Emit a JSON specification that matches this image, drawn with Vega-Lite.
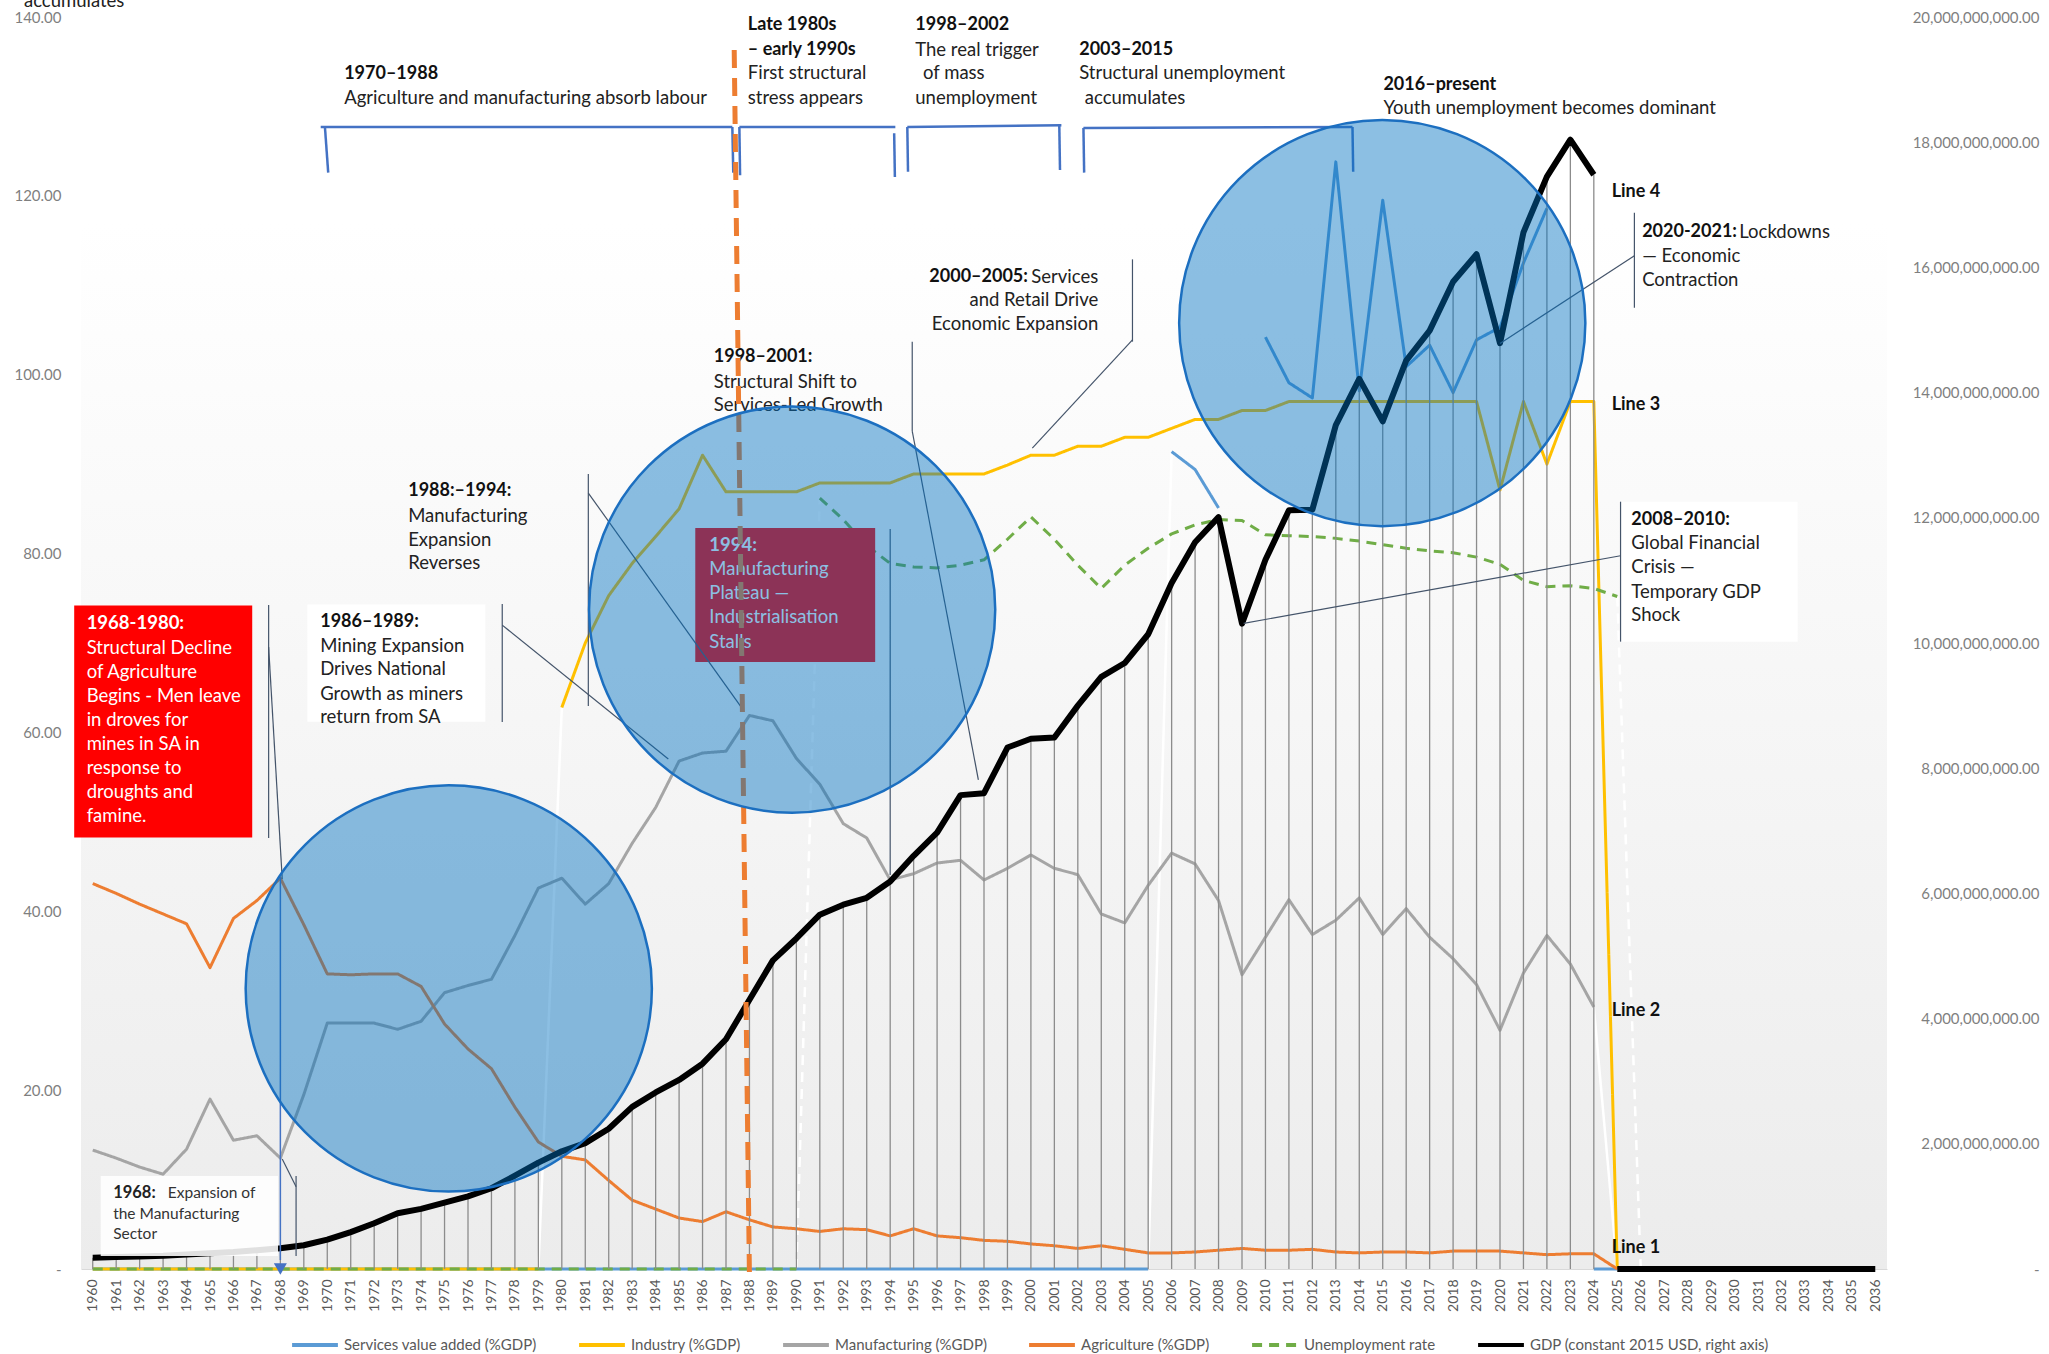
{
  "$schema": "https://vega.github.io/schema/vega-lite/v6.json",
  "width": 1806,
  "height": 1252,
  "autosize": {"type": "none"},
  "padding": {"left": 81, "top": 17, "right": 162, "bottom": 85},
  "background": "white",
  "config": {"view": {"stroke": null}},
  "datasets": {
    "series": [
      {"series":"Services","seg":"a","year":1960,"value":0},{"series":"Services","seg":"a","year":1961,"value":0},{"series":"Services","seg":"a","year":1962,"value":0},{"series":"Services","seg":"a","year":1963,"value":0},{"series":"Services","seg":"a","year":1964,"value":0},{"series":"Services","seg":"a","year":1965,"value":0},{"series":"Services","seg":"a","year":1966,"value":0},{"series":"Services","seg":"a","year":1967,"value":0},{"series":"Services","seg":"a","year":1968,"value":0},{"series":"Services","seg":"a","year":1969,"value":0},
      {"series":"Services","seg":"a","year":1970,"value":0},{"series":"Services","seg":"a","year":1971,"value":0},{"series":"Services","seg":"a","year":1972,"value":0},{"series":"Services","seg":"a","year":1973,"value":0},{"series":"Services","seg":"a","year":1974,"value":0},{"series":"Services","seg":"a","year":1975,"value":0},{"series":"Services","seg":"a","year":1976,"value":0},{"series":"Services","seg":"a","year":1977,"value":0},{"series":"Services","seg":"a","year":1978,"value":0},{"series":"Services","seg":"a","year":1979,"value":0},
      {"series":"Services","seg":"a","year":1980,"value":0},{"series":"Services","seg":"a","year":1981,"value":0},{"series":"Services","seg":"a","year":1982,"value":0},{"series":"Services","seg":"a","year":1983,"value":0},{"series":"Services","seg":"a","year":1984,"value":0},{"series":"Services","seg":"a","year":1985,"value":0},{"series":"Services","seg":"a","year":1986,"value":0},{"series":"Services","seg":"a","year":1987,"value":0},{"series":"Services","seg":"a","year":1988,"value":0},{"series":"Services","seg":"a","year":1989,"value":0},
      {"series":"Services","seg":"a","year":1990,"value":0},{"series":"Services","seg":"a","year":1991,"value":0},{"series":"Services","seg":"a","year":1992,"value":0},{"series":"Services","seg":"a","year":1993,"value":0},{"series":"Services","seg":"a","year":1994,"value":0},{"series":"Services","seg":"a","year":1995,"value":0},{"series":"Services","seg":"a","year":1996,"value":0},{"series":"Services","seg":"a","year":1997,"value":0},{"series":"Services","seg":"a","year":1998,"value":0},{"series":"Services","seg":"a","year":1999,"value":0},
      {"series":"Services","seg":"a","year":2000,"value":0},{"series":"Services","seg":"a","year":2001,"value":0},{"series":"Services","seg":"a","year":2002,"value":0},{"series":"Services","seg":"a","year":2003,"value":0},{"series":"Services","seg":"a","year":2004,"value":0},{"series":"Services","seg":"a","year":2005,"value":0},
      {"series":"Services","seg":"b","year":2006,"value":91.4},{"series":"Services","seg":"b","year":2007,"value":89.4},{"series":"Services","seg":"b","year":2008,"value":85.1},
      {"series":"Services","seg":"c","year":2010,"value":104.2},{"series":"Services","seg":"c","year":2011,"value":99.1},{"series":"Services","seg":"c","year":2012,"value":97.4},{"series":"Services","seg":"c","year":2013,"value":123.8},{"series":"Services","seg":"c","year":2014,"value":98.2},{"series":"Services","seg":"c","year":2015,"value":119.5},{"series":"Services","seg":"c","year":2016,"value":100.9},{"series":"Services","seg":"c","year":2017,"value":103.3},{"series":"Services","seg":"c","year":2018,"value":98.0},{"series":"Services","seg":"c","year":2019,"value":103.9},{"series":"Services","seg":"c","year":2020,"value":105.3},{"series":"Services","seg":"c","year":2021,"value":112.5},{"series":"Services","seg":"c","year":2022,"value":118.6},
      {"series":"Services","seg":"d","year":2024,"value":0},{"series":"Services","seg":"d","year":2025,"value":0},

      {"series":"Industry","seg":"a","year":1960,"value":0},{"series":"Industry","seg":"a","year":1961,"value":0},{"series":"Industry","seg":"a","year":1962,"value":0},{"series":"Industry","seg":"a","year":1963,"value":0},{"series":"Industry","seg":"a","year":1964,"value":0},{"series":"Industry","seg":"a","year":1965,"value":0},{"series":"Industry","seg":"a","year":1966,"value":0},{"series":"Industry","seg":"a","year":1967,"value":0},{"series":"Industry","seg":"a","year":1968,"value":0},{"series":"Industry","seg":"a","year":1969,"value":0},
      {"series":"Industry","seg":"a","year":1970,"value":0},{"series":"Industry","seg":"a","year":1971,"value":0},{"series":"Industry","seg":"a","year":1972,"value":0},{"series":"Industry","seg":"a","year":1973,"value":0},{"series":"Industry","seg":"a","year":1974,"value":0},{"series":"Industry","seg":"a","year":1975,"value":0},{"series":"Industry","seg":"a","year":1976,"value":0},{"series":"Industry","seg":"a","year":1977,"value":0},{"series":"Industry","seg":"a","year":1978,"value":0},{"series":"Industry","seg":"a","year":1979,"value":0},
      {"series":"Industry","seg":"b","year":1980,"value":62.8},{"series":"Industry","seg":"b","year":1981,"value":70.0},{"series":"Industry","seg":"b","year":1982,"value":75.3},{"series":"Industry","seg":"b","year":1983,"value":78.9},{"series":"Industry","seg":"b","year":1984,"value":81.9},{"series":"Industry","seg":"b","year":1985,"value":85.0},{"series":"Industry","seg":"b","year":1986,"value":91.0},{"series":"Industry","seg":"b","year":1987,"value":86.9},{"series":"Industry","seg":"b","year":1988,"value":86.9},{"series":"Industry","seg":"b","year":1989,"value":86.9},
      {"series":"Industry","seg":"b","year":1990,"value":86.9},{"series":"Industry","seg":"b","year":1991,"value":87.9},{"series":"Industry","seg":"b","year":1992,"value":87.9},{"series":"Industry","seg":"b","year":1993,"value":87.9},{"series":"Industry","seg":"b","year":1994,"value":87.9},{"series":"Industry","seg":"b","year":1995,"value":88.9},{"series":"Industry","seg":"b","year":1996,"value":88.9},{"series":"Industry","seg":"b","year":1997,"value":88.9},{"series":"Industry","seg":"b","year":1998,"value":88.9},{"series":"Industry","seg":"b","year":1999,"value":89.9},
      {"series":"Industry","seg":"b","year":2000,"value":91.0},{"series":"Industry","seg":"b","year":2001,"value":91.0},{"series":"Industry","seg":"b","year":2002,"value":92.0},{"series":"Industry","seg":"b","year":2003,"value":92.0},{"series":"Industry","seg":"b","year":2004,"value":93.0},{"series":"Industry","seg":"b","year":2005,"value":93.0},{"series":"Industry","seg":"b","year":2006,"value":94.0},{"series":"Industry","seg":"b","year":2007,"value":95.0},{"series":"Industry","seg":"b","year":2008,"value":95.0},{"series":"Industry","seg":"b","year":2009,"value":96.0},
      {"series":"Industry","seg":"b","year":2010,"value":96.0},{"series":"Industry","seg":"b","year":2011,"value":97.0},{"series":"Industry","seg":"b","year":2012,"value":97.0},{"series":"Industry","seg":"b","year":2013,"value":97.0},{"series":"Industry","seg":"b","year":2014,"value":97.0},{"series":"Industry","seg":"b","year":2015,"value":97.0},{"series":"Industry","seg":"b","year":2016,"value":97.0},{"series":"Industry","seg":"b","year":2017,"value":97.0},{"series":"Industry","seg":"b","year":2018,"value":97.0},{"series":"Industry","seg":"b","year":2019,"value":97.0},
      {"series":"Industry","seg":"b","year":2020,"value":87.1},{"series":"Industry","seg":"b","year":2021,"value":97.0},{"series":"Industry","seg":"b","year":2022,"value":90.0},{"series":"Industry","seg":"b","year":2023,"value":97.0},{"series":"Industry","seg":"b","year":2024,"value":97.0},{"series":"Industry","seg":"b","year":2025,"value":0},

      {"series":"Manufacturing","seg":"a","year":1960,"value":13.3},{"series":"Manufacturing","seg":"a","year":1961,"value":12.4},{"series":"Manufacturing","seg":"a","year":1962,"value":11.4},{"series":"Manufacturing","seg":"a","year":1963,"value":10.6},{"series":"Manufacturing","seg":"a","year":1964,"value":13.4},{"series":"Manufacturing","seg":"a","year":1965,"value":19.0},{"series":"Manufacturing","seg":"a","year":1966,"value":14.4},{"series":"Manufacturing","seg":"a","year":1967,"value":14.9},{"series":"Manufacturing","seg":"a","year":1968,"value":12.4},{"series":"Manufacturing","seg":"a","year":1969,"value":19.5},
      {"series":"Manufacturing","seg":"a","year":1970,"value":27.5},{"series":"Manufacturing","seg":"a","year":1971,"value":27.5},{"series":"Manufacturing","seg":"a","year":1972,"value":27.5},{"series":"Manufacturing","seg":"a","year":1973,"value":26.8},{"series":"Manufacturing","seg":"a","year":1974,"value":27.7},{"series":"Manufacturing","seg":"a","year":1975,"value":30.9},{"series":"Manufacturing","seg":"a","year":1976,"value":31.7},{"series":"Manufacturing","seg":"a","year":1977,"value":32.4},{"series":"Manufacturing","seg":"a","year":1978,"value":37.3},{"series":"Manufacturing","seg":"a","year":1979,"value":42.6},
      {"series":"Manufacturing","seg":"a","year":1980,"value":43.7},{"series":"Manufacturing","seg":"a","year":1981,"value":40.8},{"series":"Manufacturing","seg":"a","year":1982,"value":43.1},{"series":"Manufacturing","seg":"a","year":1983,"value":47.6},{"series":"Manufacturing","seg":"a","year":1984,"value":51.6},{"series":"Manufacturing","seg":"a","year":1985,"value":56.8},{"series":"Manufacturing","seg":"a","year":1986,"value":57.7},{"series":"Manufacturing","seg":"a","year":1987,"value":57.9},{"series":"Manufacturing","seg":"a","year":1988,"value":61.9},{"series":"Manufacturing","seg":"a","year":1989,"value":61.3},
      {"series":"Manufacturing","seg":"a","year":1990,"value":57.1},{"series":"Manufacturing","seg":"a","year":1991,"value":54.2},{"series":"Manufacturing","seg":"a","year":1992,"value":49.8},{"series":"Manufacturing","seg":"a","year":1993,"value":48.2},{"series":"Manufacturing","seg":"a","year":1994,"value":43.5},{"series":"Manufacturing","seg":"a","year":1995,"value":44.2},{"series":"Manufacturing","seg":"a","year":1996,"value":45.4},{"series":"Manufacturing","seg":"a","year":1997,"value":45.7},{"series":"Manufacturing","seg":"a","year":1998,"value":43.5},{"series":"Manufacturing","seg":"a","year":1999,"value":44.8},
      {"series":"Manufacturing","seg":"a","year":2000,"value":46.3},{"series":"Manufacturing","seg":"a","year":2001,"value":44.8},{"series":"Manufacturing","seg":"a","year":2002,"value":44.1},{"series":"Manufacturing","seg":"a","year":2003,"value":39.7},{"series":"Manufacturing","seg":"a","year":2004,"value":38.7},{"series":"Manufacturing","seg":"a","year":2005,"value":42.9},{"series":"Manufacturing","seg":"a","year":2006,"value":46.5},{"series":"Manufacturing","seg":"a","year":2007,"value":45.3},{"series":"Manufacturing","seg":"a","year":2008,"value":41.2},{"series":"Manufacturing","seg":"a","year":2009,"value":32.9},
      {"series":"Manufacturing","seg":"a","year":2010,"value":37.1},{"series":"Manufacturing","seg":"a","year":2011,"value":41.3},{"series":"Manufacturing","seg":"a","year":2012,"value":37.4},{"series":"Manufacturing","seg":"a","year":2013,"value":39.0},{"series":"Manufacturing","seg":"a","year":2014,"value":41.5},{"series":"Manufacturing","seg":"a","year":2015,"value":37.4},{"series":"Manufacturing","seg":"a","year":2016,"value":40.3},{"series":"Manufacturing","seg":"a","year":2017,"value":37.1},{"series":"Manufacturing","seg":"a","year":2018,"value":34.7},{"series":"Manufacturing","seg":"a","year":2019,"value":31.8},
      {"series":"Manufacturing","seg":"a","year":2020,"value":26.7},{"series":"Manufacturing","seg":"a","year":2021,"value":33.1},{"series":"Manufacturing","seg":"a","year":2022,"value":37.3},{"series":"Manufacturing","seg":"a","year":2023,"value":34.1},{"series":"Manufacturing","seg":"a","year":2024,"value":29.3},

      {"series":"Agriculture","seg":"a","year":1960,"value":43.1},{"series":"Agriculture","seg":"a","year":1961,"value":42.0},{"series":"Agriculture","seg":"a","year":1962,"value":40.8},{"series":"Agriculture","seg":"a","year":1963,"value":39.7},{"series":"Agriculture","seg":"a","year":1964,"value":38.6},{"series":"Agriculture","seg":"a","year":1965,"value":33.7},{"series":"Agriculture","seg":"a","year":1966,"value":39.2},{"series":"Agriculture","seg":"a","year":1967,"value":41.2},{"series":"Agriculture","seg":"a","year":1968,"value":43.7},{"series":"Agriculture","seg":"a","year":1969,"value":38.5},
      {"series":"Agriculture","seg":"a","year":1970,"value":33.0},{"series":"Agriculture","seg":"a","year":1971,"value":32.9},{"series":"Agriculture","seg":"a","year":1972,"value":33.0},{"series":"Agriculture","seg":"a","year":1973,"value":33.0},{"series":"Agriculture","seg":"a","year":1974,"value":31.6},{"series":"Agriculture","seg":"a","year":1975,"value":27.4},{"series":"Agriculture","seg":"a","year":1976,"value":24.6},{"series":"Agriculture","seg":"a","year":1977,"value":22.4},{"series":"Agriculture","seg":"a","year":1978,"value":18.1},{"series":"Agriculture","seg":"a","year":1979,"value":14.2},
      {"series":"Agriculture","seg":"a","year":1980,"value":12.6},{"series":"Agriculture","seg":"a","year":1981,"value":12.2},{"series":"Agriculture","seg":"a","year":1982,"value":9.9},{"series":"Agriculture","seg":"a","year":1983,"value":7.7},{"series":"Agriculture","seg":"a","year":1984,"value":6.7},{"series":"Agriculture","seg":"a","year":1985,"value":5.7},{"series":"Agriculture","seg":"a","year":1986,"value":5.3},{"series":"Agriculture","seg":"a","year":1987,"value":6.4},{"series":"Agriculture","seg":"a","year":1988,"value":5.5},{"series":"Agriculture","seg":"a","year":1989,"value":4.7},
      {"series":"Agriculture","seg":"a","year":1990,"value":4.5},{"series":"Agriculture","seg":"a","year":1991,"value":4.2},{"series":"Agriculture","seg":"a","year":1992,"value":4.5},{"series":"Agriculture","seg":"a","year":1993,"value":4.4},{"series":"Agriculture","seg":"a","year":1994,"value":3.7},{"series":"Agriculture","seg":"a","year":1995,"value":4.5},{"series":"Agriculture","seg":"a","year":1996,"value":3.7},{"series":"Agriculture","seg":"a","year":1997,"value":3.5},{"series":"Agriculture","seg":"a","year":1998,"value":3.2},{"series":"Agriculture","seg":"a","year":1999,"value":3.1},
      {"series":"Agriculture","seg":"a","year":2000,"value":2.8},{"series":"Agriculture","seg":"a","year":2001,"value":2.6},{"series":"Agriculture","seg":"a","year":2002,"value":2.3},{"series":"Agriculture","seg":"a","year":2003,"value":2.6},{"series":"Agriculture","seg":"a","year":2004,"value":2.2},{"series":"Agriculture","seg":"a","year":2005,"value":1.8},{"series":"Agriculture","seg":"a","year":2006,"value":1.8},{"series":"Agriculture","seg":"a","year":2007,"value":1.9},{"series":"Agriculture","seg":"a","year":2008,"value":2.1},{"series":"Agriculture","seg":"a","year":2009,"value":2.3},
      {"series":"Agriculture","seg":"a","year":2010,"value":2.1},{"series":"Agriculture","seg":"a","year":2011,"value":2.1},{"series":"Agriculture","seg":"a","year":2012,"value":2.2},{"series":"Agriculture","seg":"a","year":2013,"value":1.9},{"series":"Agriculture","seg":"a","year":2014,"value":1.8},{"series":"Agriculture","seg":"a","year":2015,"value":1.9},{"series":"Agriculture","seg":"a","year":2016,"value":1.9},{"series":"Agriculture","seg":"a","year":2017,"value":1.8},{"series":"Agriculture","seg":"a","year":2018,"value":2.0},{"series":"Agriculture","seg":"a","year":2019,"value":2.0},
      {"series":"Agriculture","seg":"a","year":2020,"value":2.0},{"series":"Agriculture","seg":"a","year":2021,"value":1.8},{"series":"Agriculture","seg":"a","year":2022,"value":1.6},{"series":"Agriculture","seg":"a","year":2023,"value":1.7},{"series":"Agriculture","seg":"a","year":2024,"value":1.7},{"series":"Agriculture","seg":"a","year":2025,"value":0},

      {"series":"Unemployment","seg":"a","year":1960,"value":0},{"series":"Unemployment","seg":"a","year":1961,"value":0},{"series":"Unemployment","seg":"a","year":1962,"value":0},{"series":"Unemployment","seg":"a","year":1963,"value":0},{"series":"Unemployment","seg":"a","year":1964,"value":0},{"series":"Unemployment","seg":"a","year":1965,"value":0},{"series":"Unemployment","seg":"a","year":1966,"value":0},{"series":"Unemployment","seg":"a","year":1967,"value":0},{"series":"Unemployment","seg":"a","year":1968,"value":0},{"series":"Unemployment","seg":"a","year":1969,"value":0},
      {"series":"Unemployment","seg":"a","year":1970,"value":0},{"series":"Unemployment","seg":"a","year":1971,"value":0},{"series":"Unemployment","seg":"a","year":1972,"value":0},{"series":"Unemployment","seg":"a","year":1973,"value":0},{"series":"Unemployment","seg":"a","year":1974,"value":0},{"series":"Unemployment","seg":"a","year":1975,"value":0},{"series":"Unemployment","seg":"a","year":1976,"value":0},{"series":"Unemployment","seg":"a","year":1977,"value":0},{"series":"Unemployment","seg":"a","year":1978,"value":0},{"series":"Unemployment","seg":"a","year":1979,"value":0},
      {"series":"Unemployment","seg":"a","year":1980,"value":0},{"series":"Unemployment","seg":"a","year":1981,"value":0},{"series":"Unemployment","seg":"a","year":1982,"value":0},{"series":"Unemployment","seg":"a","year":1983,"value":0},{"series":"Unemployment","seg":"a","year":1984,"value":0},{"series":"Unemployment","seg":"a","year":1985,"value":0},{"series":"Unemployment","seg":"a","year":1986,"value":0},{"series":"Unemployment","seg":"a","year":1987,"value":0},{"series":"Unemployment","seg":"a","year":1988,"value":0},{"series":"Unemployment","seg":"a","year":1989,"value":0},
      {"series":"Unemployment","seg":"a","year":1990,"value":0},
      {"series":"Unemployment","seg":"b","year":1991,"value":86.2},{"series":"Unemployment","seg":"b","year":1992,"value":83.8},{"series":"Unemployment","seg":"b","year":1993,"value":80.9},{"series":"Unemployment","seg":"b","year":1994,"value":78.9},{"series":"Unemployment","seg":"b","year":1995,"value":78.5},{"series":"Unemployment","seg":"b","year":1996,"value":78.4},{"series":"Unemployment","seg":"b","year":1997,"value":78.7},{"series":"Unemployment","seg":"b","year":1998,"value":79.3},{"series":"Unemployment","seg":"b","year":1999,"value":81.6},
      {"series":"Unemployment","seg":"b","year":2000,"value":84.1},{"series":"Unemployment","seg":"b","year":2001,"value":81.6},{"series":"Unemployment","seg":"b","year":2002,"value":78.7},{"series":"Unemployment","seg":"b","year":2003,"value":76.1},{"series":"Unemployment","seg":"b","year":2004,"value":78.7},{"series":"Unemployment","seg":"b","year":2005,"value":80.6},{"series":"Unemployment","seg":"b","year":2006,"value":82.2},{"series":"Unemployment","seg":"b","year":2007,"value":83.2},{"series":"Unemployment","seg":"b","year":2008,"value":83.8},{"series":"Unemployment","seg":"b","year":2009,"value":83.7},
      {"series":"Unemployment","seg":"b","year":2010,"value":82.1},{"series":"Unemployment","seg":"b","year":2011,"value":82.0},{"series":"Unemployment","seg":"b","year":2012,"value":81.9},{"series":"Unemployment","seg":"b","year":2013,"value":81.7},{"series":"Unemployment","seg":"b","year":2014,"value":81.4},{"series":"Unemployment","seg":"b","year":2015,"value":81.0},{"series":"Unemployment","seg":"b","year":2016,"value":80.6},{"series":"Unemployment","seg":"b","year":2017,"value":80.3},{"series":"Unemployment","seg":"b","year":2018,"value":80.1},{"series":"Unemployment","seg":"b","year":2019,"value":79.6},
      {"series":"Unemployment","seg":"b","year":2020,"value":78.8},{"series":"Unemployment","seg":"b","year":2021,"value":77.0},{"series":"Unemployment","seg":"b","year":2022,"value":76.3},{"series":"Unemployment","seg":"b","year":2023,"value":76.4},{"series":"Unemployment","seg":"b","year":2024,"value":76.1},{"series":"Unemployment","seg":"b","year":2025,"value":75.2}
    ],
    "jumps": [
      {"seg":"i","year":1979,"value":0},{"seg":"i","year":1980,"value":62.8},
      {"seg":"s","year":2005,"value":0},{"seg":"s","year":2006,"value":91.4},
      {"seg":"m","year":2024,"value":29.3},{"seg":"m","year":2025,"value":0}
    ],
    "dashJumps": [
      {"seg":"u1","year":1990,"value":0},{"seg":"u1","year":1991,"value":86.2},
      {"seg":"u2","year":2025,"value":75.2},{"seg":"u2","year":2026,"value":0}
    ],
    "gdp": [
      {"series":"GDP","seg":"a","year":1960,"gdp":180000000},{"series":"GDP","seg":"a","year":1961,"gdp":190000000},{"series":"GDP","seg":"a","year":1962,"gdp":200000000},{"series":"GDP","seg":"a","year":1963,"gdp":210000000},{"series":"GDP","seg":"a","year":1964,"gdp":230000000},{"series":"GDP","seg":"a","year":1965,"gdp":250000000},{"series":"GDP","seg":"a","year":1966,"gdp":270000000},{"series":"GDP","seg":"a","year":1967,"gdp":300000000},{"series":"GDP","seg":"a","year":1968,"gdp":330000000},{"series":"GDP","seg":"a","year":1969,"gdp":380000000},
      {"series":"GDP","seg":"a","year":1970,"gdp":470000000},{"series":"GDP","seg":"a","year":1971,"gdp":590000000},{"series":"GDP","seg":"a","year":1972,"gdp":730000000},{"series":"GDP","seg":"a","year":1973,"gdp":890000000},{"series":"GDP","seg":"a","year":1974,"gdp":960000000},{"series":"GDP","seg":"a","year":1975,"gdp":1060000000},{"series":"GDP","seg":"a","year":1976,"gdp":1160000000},{"series":"GDP","seg":"a","year":1977,"gdp":1290000000},{"series":"GDP","seg":"a","year":1978,"gdp":1490000000},{"series":"GDP","seg":"a","year":1979,"gdp":1700000000},
      {"series":"GDP","seg":"a","year":1980,"gdp":1880000000},{"series":"GDP","seg":"a","year":1981,"gdp":2010000000},{"series":"GDP","seg":"a","year":1982,"gdp":2240000000},{"series":"GDP","seg":"a","year":1983,"gdp":2590000000},{"series":"GDP","seg":"a","year":1984,"gdp":2820000000},{"series":"GDP","seg":"a","year":1985,"gdp":3020000000},{"series":"GDP","seg":"a","year":1986,"gdp":3280000000},{"series":"GDP","seg":"a","year":1987,"gdp":3670000000},{"series":"GDP","seg":"a","year":1988,"gdp":4300000000},{"series":"GDP","seg":"a","year":1989,"gdp":4930000000},
      {"series":"GDP","seg":"a","year":1990,"gdp":5280000000},{"series":"GDP","seg":"a","year":1991,"gdp":5660000000},{"series":"GDP","seg":"a","year":1992,"gdp":5820000000},{"series":"GDP","seg":"a","year":1993,"gdp":5930000000},{"series":"GDP","seg":"a","year":1994,"gdp":6190000000},{"series":"GDP","seg":"a","year":1995,"gdp":6600000000},{"series":"GDP","seg":"a","year":1996,"gdp":6970000000},{"series":"GDP","seg":"a","year":1997,"gdp":7570000000},{"series":"GDP","seg":"a","year":1998,"gdp":7600000000},{"series":"GDP","seg":"a","year":1999,"gdp":8330000000},
      {"series":"GDP","seg":"a","year":2000,"gdp":8470000000},{"series":"GDP","seg":"a","year":2001,"gdp":8490000000},{"series":"GDP","seg":"a","year":2002,"gdp":9000000000},{"series":"GDP","seg":"a","year":2003,"gdp":9460000000},{"series":"GDP","seg":"a","year":2004,"gdp":9680000000},{"series":"GDP","seg":"a","year":2005,"gdp":10140000000},{"series":"GDP","seg":"a","year":2006,"gdp":10960000000},{"series":"GDP","seg":"a","year":2007,"gdp":11610000000},{"series":"GDP","seg":"a","year":2008,"gdp":12010000000},{"series":"GDP","seg":"a","year":2009,"gdp":10310000000},
      {"series":"GDP","seg":"a","year":2010,"gdp":11330000000},{"series":"GDP","seg":"a","year":2011,"gdp":12120000000},{"series":"GDP","seg":"a","year":2012,"gdp":12130000000},{"series":"GDP","seg":"a","year":2013,"gdp":13480000000},{"series":"GDP","seg":"a","year":2014,"gdp":14220000000},{"series":"GDP","seg":"a","year":2015,"gdp":13540000000},{"series":"GDP","seg":"a","year":2016,"gdp":14510000000},{"series":"GDP","seg":"a","year":2017,"gdp":14990000000},{"series":"GDP","seg":"a","year":2018,"gdp":15770000000},{"series":"GDP","seg":"a","year":2019,"gdp":16210000000},
      {"series":"GDP","seg":"a","year":2020,"gdp":14790000000},{"series":"GDP","seg":"a","year":2021,"gdp":16560000000},{"series":"GDP","seg":"a","year":2022,"gdp":17450000000},{"series":"GDP","seg":"a","year":2023,"gdp":18040000000},{"series":"GDP","seg":"a","year":2024,"gdp":17480000000},
      {"series":"GDP","seg":"b","year":2025,"gdp":0},{"series":"GDP","seg":"b","year":2026,"gdp":0},{"series":"GDP","seg":"b","year":2027,"gdp":0},{"series":"GDP","seg":"b","year":2028,"gdp":0},{"series":"GDP","seg":"b","year":2029,"gdp":0},{"series":"GDP","seg":"b","year":2030,"gdp":0},{"series":"GDP","seg":"b","year":2031,"gdp":0},{"series":"GDP","seg":"b","year":2032,"gdp":0},{"series":"GDP","seg":"b","year":2033,"gdp":0},{"series":"GDP","seg":"b","year":2034,"gdp":0},{"series":"GDP","seg":"b","year":2035,"gdp":0},{"series":"GDP","seg":"b","year":2036,"gdp":0}
    ],
    "hdrs": [
      {"year":1970.72,"value":133.6,"t":"1970–1988"},
      {"year":1987.93,"value":139.1,"t":"Late 1980s"},
      {"year":1987.93,"value":136.3,"t":"– early 1990s"},
      {"year":1995.07,"value":139.1,"t":"1998–2002"},
      {"year":2002.06,"value":136.3,"t":"2003–2015"},
      {"year":2015.03,"value":132.4,"t":"2016–present"},
      {"year":1969.7,"value":72.4,"t":"1986–1989:"},
      {"year":1973.45,"value":87.0,"t":"1988:–1994:"},
      {"year":1986.48,"value":102.0,"t":"1998–2001:"},
      {"year":1995.67,"value":110.9,"t":"2000–2005:"},
      {"year":2026.06,"value":116.0,"t":"2020-2021:"},
      {"year":2025.6,"value":83.75,"t":"2008–2010:"},
      {"year":2024.76,"value":120.4,"t":"Line 4"},
      {"year":2024.76,"value":96.6,"t":"Line 3"},
      {"year":2024.76,"value":28.9,"t":"Line 2"},
      {"year":2024.76,"value":2.4,"t":"Line 1"}
    ],
    "body": [
      {"year":1970.72,"value":130.9,"t":"Agriculture and manufacturing absorb labour"},
      {"year":1987.93,"value":133.7,"t":"First structural"},
      {"year":1987.93,"value":130.9,"t":"stress appears"},
      {"year":1995.07,"value":136.3,"t":"The real trigger"},
      {"year":1995.4,"value":133.7,"t":"of mass"},
      {"year":1995.07,"value":130.9,"t":"unemployment"},
      {"year":2002.06,"value":133.7,"t":"Structural unemployment"},
      {"year":2002.3,"value":130.9,"t":"accumulates"},
      {"year":2015.03,"value":129.8,"t":"Youth unemployment becomes dominant"},
      {"year":1969.7,"value":69.66,"t":"Mining Expansion"},
      {"year":1969.7,"value":67.09,"t":"Drives National"},
      {"year":1969.7,"value":64.3,"t":"Growth as miners"},
      {"year":1969.7,"value":61.67,"t":"return from SA"},
      {"year":1973.45,"value":84.2,"t":"Manufacturing"},
      {"year":1973.45,"value":81.5,"t":"Expansion"},
      {"year":1973.45,"value":78.9,"t":"Reverses"},
      {"year":1986.48,"value":99.2,"t":"Structural Shift to"},
      {"year":1986.48,"value":96.6,"t":"Services-Led Growth"},
      {"year":2030.2,"value":116.0,"t":"Lockdowns"},
      {"year":2026.06,"value":113.27,"t":"— Economic"},
      {"year":2026.06,"value":110.6,"t":"Contraction"},
      {"year":2025.6,"value":81.15,"t":"Global Financial"},
      {"year":2025.6,"value":78.46,"t":"Crisis —"},
      {"year":2025.6,"value":75.74,"t":"Temporary GDP"},
      {"year":2025.6,"value":73.13,"t":"Shock"},
      {"year":1957.07,"value":141.8,"t":"accumulates"}
    ],
    "bodyRight": [
      {"year":2002.87,"value":110.9,"t":"Services"},
      {"year":2002.87,"value":108.3,"t":"and Retail Drive"},
      {"year":2002.87,"value":105.7,"t":"Economic Expansion"}
    ],
    "whiteHdr": [
      {"year":1959.74,"value":72.24,"t":"1968-1980:"},
      {"year":1986.29,"value":80.96,"t":"1994:"}
    ],
    "whiteBody": [
      {"year":1959.74,"value":69.44,"t":"Structural Decline"},
      {"year":1959.74,"value":66.81,"t":"of Agriculture"},
      {"year":1959.74,"value":64.07,"t":"Begins - Men leave"},
      {"year":1959.74,"value":61.39,"t":"in droves for"},
      {"year":1959.74,"value":58.7,"t":"mines in SA in"},
      {"year":1959.74,"value":56.02,"t":"response to"},
      {"year":1959.74,"value":53.34,"t":"droughts and"},
      {"year":1959.74,"value":50.65,"t":"famine."},
      {"year":1986.29,"value":78.28,"t":"Manufacturing"},
      {"year":1986.29,"value":75.59,"t":"Plateau —"},
      {"year":1986.29,"value":72.91,"t":"Industrialisation"},
      {"year":1986.29,"value":70.11,"t":"Stalls"}
    ],
    "smallBody": [
      {"year":1963.2,"value":8.55,"t":"Expansion of"},
      {"year":1960.87,"value":6.15,"t":"the Manufacturing"},
      {"year":1960.87,"value":3.91,"t":"Sector"}
    ],
    "leaders": [
      {"year":1967.5,"value":74.25,"year2":1967.5,"value2":48.2},
      {"year":1967.5,"value":69.55,"year2":1968.08,"value2":43.6},
      {"year":1977.46,"value":74.36,"year2":1977.46,"value2":61.16},
      {"year":1977.46,"value":72.0,"year2":1984.54,"value2":57.03},
      {"year":1981.13,"value":88.9,"year2":1981.13,"value2":62.95},
      {"year":1981.13,"value":86.77,"year2":1987.74,"value2":62.5},
      {"year":1994.0,"value":82.75,"year2":1994.0,"value2":44.06},
      {"year":1994.94,"value":103.7,"year2":1994.94,"value2":93.7},
      {"year":1994.94,"value":93.7,"year2":1997.76,"value2":54.7},
      {"year":2004.33,"value":112.9,"year2":2004.33,"value2":103.7},
      {"year":2004.33,"value":103.9,"year2":2000.06,"value2":91.8},
      {"year":2025.73,"value":118.1,"year2":2025.73,"value2":107.5},
      {"year":2025.73,"value":113.3,"year2":2020.0,"value2":103.5},
      {"year":2025.14,"value":85.8,"year2":2025.14,"value2":70.15},
      {"year":2025.14,"value":79.76,"year2":2009.07,"value2":72.2},
      {"year":1968.67,"value":10.4,"year2":1968.67,"value2":1.45},
      {"year":1968.08,"value":12.3,"year2":1968.67,"value2":9.2}
    ],
    "brackets": [
      {"year":1969.72,"value":127.7,"year2":1987.27,"value2":127.7},
      {"year":1969.9,"value":127.7,"year2":1970.04,"value2":122.6},
      {"year":1987.27,"value":127.7,"year2":1987.31,"value2":122.6},
      {"year":1987.57,"value":127.7,"year2":1994.22,"value2":127.7},
      {"year":1987.57,"value":127.7,"year2":1987.6,"value2":122.3},
      {"year":1994.17,"value":127.0,"year2":1994.2,"value2":122.1},
      {"year":1994.73,"value":127.7,"year2":2001.3,"value2":127.9},
      {"year":1994.73,"value":127.7,"year2":1994.76,"value2":122.7},
      {"year":2001.21,"value":127.9,"year2":2001.24,"value2":122.9},
      {"year":2002.24,"value":127.6,"year2":2013.71,"value2":127.7},
      {"year":2002.24,"value":127.6,"year2":2002.27,"value2":122.6},
      {"year":2013.71,"value":127.7,"year2":2013.74,"value2":122.7}
    ],
    "redBoxes": [
      {"year":1959.21,"year2":1966.8,"value":74.2,"value2":48.24},
      {"year":1985.69,"year2":1993.36,"value":82.86,"value2":67.87}
    ],
    "whiteBoxes": [
      {"year":1969.15,"year2":1976.74,"value":74.3,"value2":61.2},
      {"year":2025.14,"year2":2032.69,"value":85.8,"value2":70.15}
    ],
    "circles": [
      {"year":1975.18,"value":31.37},
      {"year":1989.82,"value":73.74},
      {"year":2014.98,"value":105.78}
    ]
  },
  "encoding": {
    "x": {"field": "year", "type": "quantitative", "scale": {"domain": [1959.5, 2036.5], "nice": false, "zero": false},
      "axis": {"values": [1960,1961,1962,1963,1964,1965,1966,1967,1968,1969,1970,1971,1972,1973,1974,1975,1976,1977,1978,1979,1980,1981,1982,1983,1984,1985,1986,1987,1988,1989,1990,1991,1992,1993,1994,1995,1996,1997,1998,1999,2000,2001,2002,2003,2004,2005,2006,2007,2008,2009,2010,2011,2012,2013,2014,2015,2016,2017,2018,2019,2020,2021,2022,2023,2024,2025,2026,2027,2028,2029,2030,2031,2032,2033,2034,2035,2036],
        "format": "d", "labelAngle": 270, "ticks": false, "grid": false, "domainColor": "#D9D9D9", "domainWidth": 1, "labelFont": "Lato", "labelFontSize": 14, "labelColor": "#595959", "labelPadding": 10, "title": null, "labelFlush": false, "labelOverlap": false}}
  },
  "layer": [
    {
      "encoding": {
        "y": {"field": "value", "type": "quantitative", "scale": {"domain": [0, 140], "nice": false, "zero": false},
          "axis": {"values": [0,20,40,60,80,100,120,140], "labelExpr": "datum.value == 0 ? '-' : format(datum.value, '.2f')", "ticks": false, "domain": false, "grid": false, "labelPadding": 20, "title": null, "labelFont": "Lato", "labelFontSize": 15, "labelColor": "#7F7F7F"}}
      },
      "layer": [
        {
          "data": {"values": [{"year": 1959.5, "year2": 2036.5, "value": 117, "value2": 0}]},
          "mark": {"type": "rect", "fill": {"gradient": "linear", "x1": 0, "y1": 0, "x2": 0, "y2": 1, "stops": [{"offset": 0, "color": "#FFFFFF"}, {"offset": 1, "color": "#ECECEC"}]}},
          "encoding": {"x2": {"field": "year2"}, "y2": {"field": "value2"}}
        },
        {
          "data": {"name": "jumps"},
          "mark": {"type": "line", "strokeWidth": 2.5, "color": "#FFFFFF"},
          "encoding": {"detail": {"field": "seg", "type": "nominal"}}
        },
        {
          "data": {"name": "dashJumps"},
          "mark": {"type": "line", "strokeWidth": 2.5, "color": "#FFFFFF", "strokeDash": [10, 7]},
          "encoding": {"detail": {"field": "seg", "type": "nominal"}}
        },
        {
          "data": {"name": "series"},
          "mark": {"type": "line", "strokeWidth": 3, "strokeJoin": "round"},
          "encoding": {
            "color": {"field": "series", "type": "nominal",
              "scale": {"domain": ["Services","Industry","Manufacturing","Agriculture","Unemployment","GDP"], "range": ["#5B9BD5","#FFC000","#A5A5A5","#ED7D31","#70AD47","#000000"]},
              "legend": {"orient": "none", "legendX": 209, "legendY": 1303, "direction": "horizontal", "columns": 6, "symbolType": "stroke", "symbolSize": 2100, "symbolStrokeWidth": 4, "labelFont": "Lato", "labelFontSize": 15, "labelColor": "#595959", "columnPadding": 34, "title": null, "padding": 0, "labelOffset": 4, "labelLimit": 400,
                "labelExpr": "datum.label == 'Services' ? 'Services value added (%GDP)' : datum.label == 'Industry' ? 'Industry (%GDP)' : datum.label == 'Manufacturing' ? 'Manufacturing (%GDP)' : datum.label == 'Agriculture' ? 'Agriculture (%GDP)' : datum.label == 'Unemployment' ? 'Unemployment rate' : 'GDP (constant 2015 USD, right axis)'"}},
            "strokeDash": {"field": "series", "type": "nominal",
              "scale": {"domain": ["Services","Industry","Manufacturing","Agriculture","Unemployment","GDP"], "range": [[1,0],[1,0],[1,0],[1,0],[10,7],[1,0]]},
              "legend": {"orient": "none", "legendX": 209, "legendY": 1303, "direction": "horizontal", "columns": 6, "symbolType": "stroke", "symbolSize": 2100, "symbolStrokeWidth": 4, "labelFont": "Lato", "labelFontSize": 15, "labelColor": "#595959", "columnPadding": 34, "title": null, "padding": 0, "labelOffset": 4, "labelLimit": 400,
                "labelExpr": "datum.label == 'Services' ? 'Services value added (%GDP)' : datum.label == 'Industry' ? 'Industry (%GDP)' : datum.label == 'Manufacturing' ? 'Manufacturing (%GDP)' : datum.label == 'Agriculture' ? 'Agriculture (%GDP)' : datum.label == 'Unemployment' ? 'Unemployment rate' : 'GDP (constant 2015 USD, right axis)'"}},
            "detail": {"field": "seg", "type": "nominal"}
          }
        }
      ]
    },
    {
      "encoding": {
        "y": {"field": "gdp", "type": "quantitative", "scale": {"domain": [0, 20000000000], "nice": false, "zero": false},
          "axis": {"orient": "right", "values": [0,2000000000,4000000000,6000000000,8000000000,10000000000,12000000000,14000000000,16000000000,18000000000,20000000000], "labelExpr": "datum.value == 0 ? '-' : format(datum.value, ',.2f')", "ticks": false, "domain": false, "grid": false, "labelAlign": "right", "labelPadding": 152, "title": null, "labelFont": "Lato", "labelFontSize": 15, "labelColor": "#7F7F7F"}}
      },
      "layer": [
        {
          "data": {"name": "gdp"},
          "transform": [{"filter": "datum.seg == 'a'"}],
          "mark": {"type": "rule", "color": "#8C8C8C", "strokeWidth": 1.3},
          "encoding": {"y2": {"datum": 0}}
        },
        {
          "data": {"name": "gdp"},
          "mark": {"type": "line", "strokeWidth": 6, "strokeJoin": "round"},
          "encoding": {
            "color": {"field": "series", "type": "nominal",
              "scale": {"domain": ["Services","Industry","Manufacturing","Agriculture","Unemployment","GDP"], "range": ["#5B9BD5","#FFC000","#A5A5A5","#ED7D31","#70AD47","#000000"]},
              "legend": {"orient": "none", "legendX": 209, "legendY": 1303, "direction": "horizontal", "columns": 6, "symbolType": "stroke", "symbolSize": 2100, "symbolStrokeWidth": 4, "labelFont": "Lato", "labelFontSize": 15, "labelColor": "#595959", "columnPadding": 34, "title": null, "padding": 0, "labelOffset": 4, "labelLimit": 400,
                "labelExpr": "datum.label == 'Services' ? 'Services value added (%GDP)' : datum.label == 'Industry' ? 'Industry (%GDP)' : datum.label == 'Manufacturing' ? 'Manufacturing (%GDP)' : datum.label == 'Agriculture' ? 'Agriculture (%GDP)' : datum.label == 'Unemployment' ? 'Unemployment rate' : 'GDP (constant 2015 USD, right axis)'"}},
            "detail": {"field": "seg", "type": "nominal"}
          }
        }
      ]
    },
    {
      "encoding": {
        "y": {"field": "value", "type": "quantitative", "scale": {"domain": [0, 140], "nice": false, "zero": false}, "axis": null}
      },
      "layer": [
        {"data": {"name": "redBoxes"}, "mark": {"type": "rect", "fill": "#FF0000"}, "encoding": {"x2": {"field": "year2"}, "y2": {"field": "value2"}}},
        {"data": {"name": "whiteBoxes"}, "mark": {"type": "rect", "fill": "#FFFFFF"}, "encoding": {"x2": {"field": "year2"}, "y2": {"field": "value2"}}},
        {"data": {"values": [{"year":1960.34,"year2":1967.9,"value":10.4,"value2":1.45}]}, "mark": {"type": "rect", "fill": "#FFFFFF", "opacity": 0.88}, "encoding": {"x2": {"field": "year2"}, "y2": {"field": "value2"}}},
        {"data": {"name": "leaders"}, "mark": {"type": "rule", "color": "#44546A", "strokeWidth": 1.2}, "encoding": {"x2": {"field": "year2"}, "y2": {"field": "value2"}}},
        {"data": {"name": "brackets"}, "mark": {"type": "rule", "color": "#4472C4", "strokeWidth": 2.5}, "encoding": {"x2": {"field": "year2"}, "y2": {"field": "value2"}}},
        {"data": {"values": [{"year":1968,"value":43.8,"year2":1968,"value2":1.0}]}, "mark": {"type": "rule", "color": "#4472C4", "strokeWidth": 1.5}, "encoding": {"x2": {"field": "year2"}, "y2": {"field": "value2"}}},
        {"data": {"values": [{"year":1968,"value":0}]}, "mark": {"type": "point", "shape": "triangle-down", "filled": true, "size": 170, "color": "#4472C4", "opacity": 1}},
        {"data": {"name": "hdrs"}, "mark": {"type": "text", "align": "left", "baseline": "middle", "font": "Lato", "fontSize": 18, "fontWeight": "bold", "color": "#111111"}, "encoding": {"text": {"field": "t"}}},
        {"data": {"name": "body"}, "mark": {"type": "text", "align": "left", "baseline": "middle", "font": "Lato", "fontSize": 18.5, "color": "#222222"}, "encoding": {"text": {"field": "t"}}},
        {"data": {"name": "bodyRight"}, "mark": {"type": "text", "align": "right", "baseline": "middle", "font": "Lato", "fontSize": 18.5, "color": "#222222"}, "encoding": {"text": {"field": "t"}}},
        {"data": {"name": "whiteHdr"}, "mark": {"type": "text", "align": "left", "baseline": "middle", "font": "Lato", "fontSize": 18.5, "fontWeight": "bold", "color": "#FFFFFF"}, "encoding": {"text": {"field": "t"}}},
        {"data": {"name": "whiteBody"}, "mark": {"type": "text", "align": "left", "baseline": "middle", "font": "Lato", "fontSize": 18.5, "color": "#FFFFFF"}, "encoding": {"text": {"field": "t"}}},
        {"data": {"values": [{"year":1960.87,"value":8.55,"t":"1968:"}]}, "mark": {"type": "text", "align": "left", "baseline": "middle", "font": "Lato", "fontSize": 16.5, "fontWeight": "bold", "color": "#222222"}, "encoding": {"text": {"field": "t"}}},
        {"data": {"name": "smallBody"}, "mark": {"type": "text", "align": "left", "baseline": "middle", "font": "Lato", "fontSize": 15.5, "color": "#333333"}, "encoding": {"text": {"field": "t"}}},
        {"data": {"values": [{"year":1987.35,"value":136.3,"year2":1988.0,"value2":-0.9}]}, "mark": {"type": "rule", "color": "#ED7D31", "strokeWidth": 5, "strokeDash": [18, 10]}, "encoding": {"x2": {"field": "year2"}, "y2": {"field": "value2"}}},
        {"data": {"name": "circles"}, "mark": {"type": "point", "shape": "circle", "filled": true, "size": 165000, "fill": "#0070C0", "fillOpacity": 0.45, "stroke": "#1C6FC0", "strokeWidth": 2.5, "strokeOpacity": 1, "opacity": 1}}
      ]
    }
  ],
  "resolve": {"scale": {"y": "independent"}}
}
